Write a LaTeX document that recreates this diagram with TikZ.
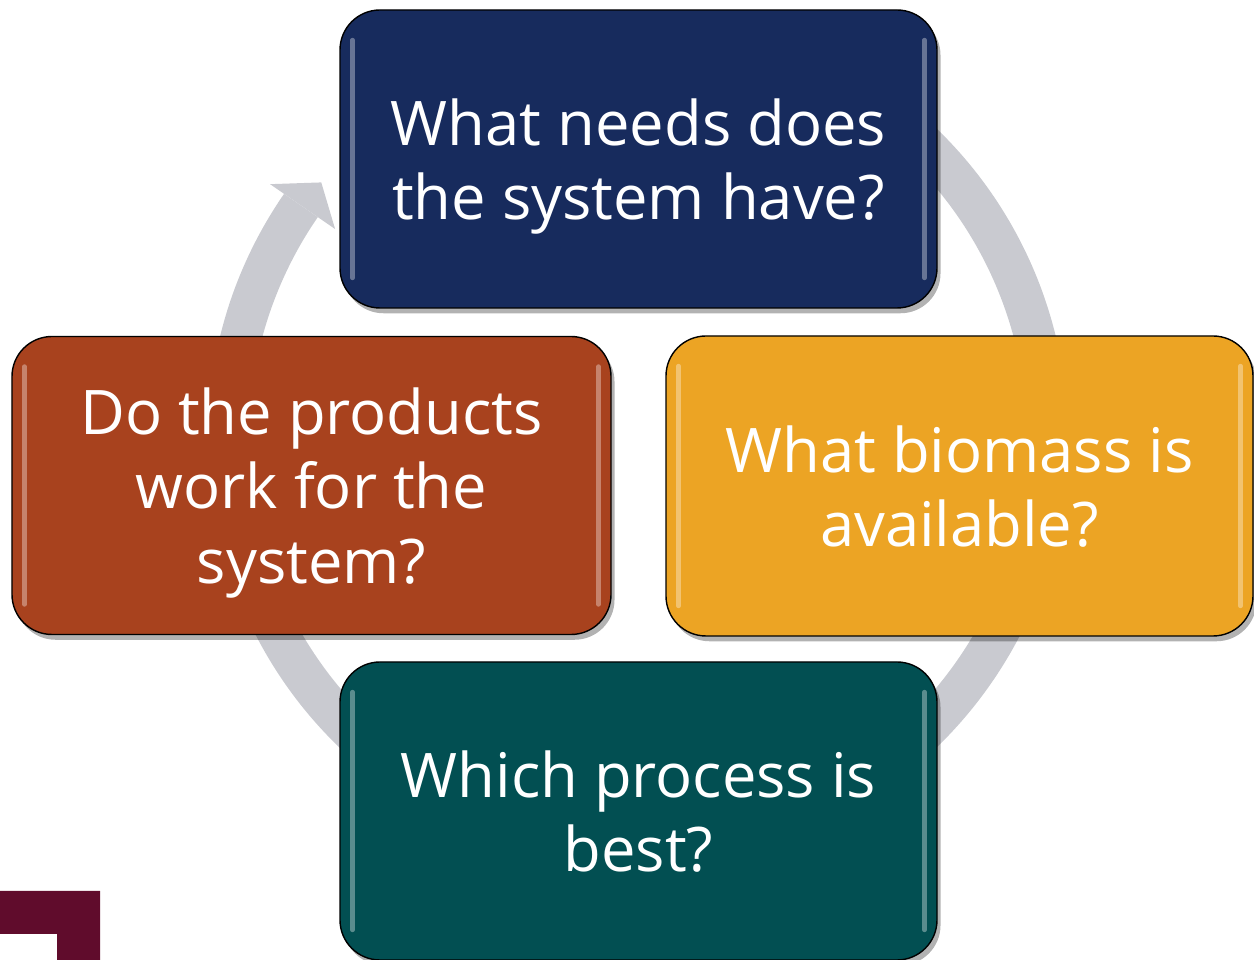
\documentclass[tikz,border=0pt]{standalone}
\usepackage{fontspec}
\setmainfont{Open Sans}
\usepackage{tikz}
\usetikzlibrary{positioning, calc, shadows}

\definecolor{needsBlue}{RGB}{23,43,93}
\definecolor{productsRust}{RGB}{168,66,30}
\definecolor{biomassGold}{RGB}{236,164,36}
\definecolor{processTeal}{RGB}{2,79,82}
\definecolor{ringGray}{RGB}{201,202,208}
\definecolor{cornerMaroon}{RGB}{96,12,44}

\begin{document}
\begin{tikzpicture}[box/.style={draw=black, line width=0.8pt, rounded corners=0.8cm,
        minimum width=11.94cm, minimum height=5.96cm, inner sep=0pt, text depth=0pt,
        text=white, align=center, font=\fontsize{35}{42.5}\selectfont,
        drop shadow={shadow xshift=2pt, shadow yshift=-3pt, opacity=0.3, fill=black},
        path picture={
            \draw[white, opacity=0.35, line width=2.5pt, line cap=round]
                ($(path picture bounding box.north west)+(0.25,-0.6)$) -- ($(path picture bounding box.south west)+(0.25,0.6)$);
            \draw[white, opacity=0.35, line width=2.5pt, line cap=round]
                ($(path picture bounding box.north east)+(-0.25,-0.6)$) -- ($(path picture bounding box.south east)+(-0.25,0.6)$);
        }}]
        \useasboundingbox (0,0) rectangle (25.08,19.2);
        \clip (0,0) rectangle (25.08,19.2);

        % Define the cycle behind the boxes
        \coordinate (hub) at (12.76,10.44);
        \fill[ringGray] ($(hub)+(145.4:8.6)$) arc[start angle=145.4, end angle=420, radius=8.6]
            -- ($(hub)+(420:7.78)$) arc[start angle=420, end angle=145.4, radius=7.78] -- cycle;
        \fill[ringGray] ($(hub)+(145.4:8.94)$) -- ($(hub)+(141.1:8.14)$) -- ($(hub)+(145.4:7.36)$) -- cycle;

        % Define nodes
        \node[box, fill=needsBlue] (needs) at (12.77,16.02) {What needs does\\the system have?};
        \node[box, fill=productsRust, minimum width=11.98cm] (products) at (6.23,9.49) {Do the products\\work for the\\system?};
        \node[box, fill=biomassGold, minimum width=11.74cm, minimum height=6cm] (biomass) at (19.19,9.48) {What biomass is\\available?};
        \node[box, fill=processTeal] (process) at (12.77,2.98) {Which process is\\best?};

        % Corner mark
        \fill[cornerMaroon] (0,1.38) -- (2.0,1.38) -- (2.0,0) -- (1.14,0) -- (1.14,0.52) -- (0,0.52) -- cycle;

    \end{tikzpicture}
\end{document}
